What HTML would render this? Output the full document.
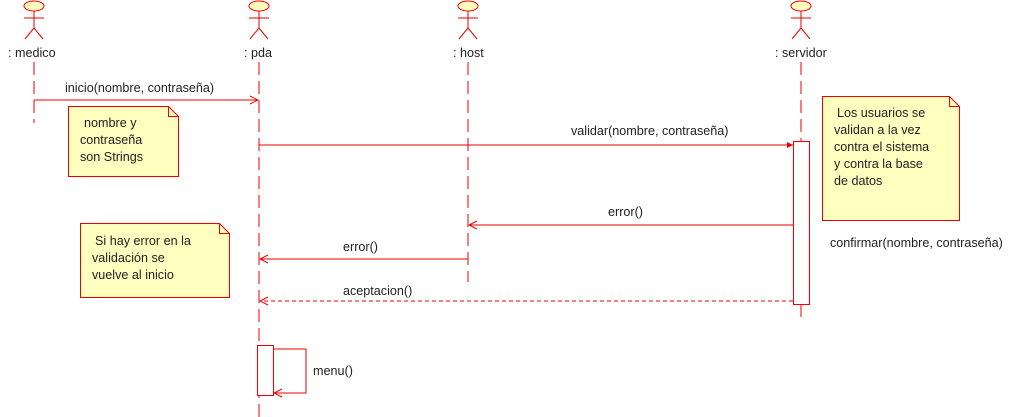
<!DOCTYPE html><html><head><style>body{margin:0;background:#fff}svg{display:block}text{font-family:"Liberation Sans",sans-serif;font-size:12.6px;fill:#222}</style></head><body>
<svg width="1024" height="417" viewBox="0 0 1024 417" xmlns="http://www.w3.org/2000/svg">
<defs><marker id="a" markerWidth="10" markerHeight="10" refX="9" refY="5" orient="auto" markerUnits="userSpaceOnUse"><path d="M1,1 L9,5 L1,9" fill="none" stroke="#e00" stroke-width="1"/></marker>
<marker id="f" markerWidth="10" markerHeight="10" refX="9" refY="5" orient="auto" markerUnits="userSpaceOnUse"><path d="M3,2 L9,5 L3,8Z" fill="#e00"/></marker>
<g id="act" stroke="#e00" fill="none" stroke-width="1"><ellipse cx="0" cy="6" rx="10" ry="5" fill="#ffffc0"/><path d="M0,11V28M-10,18H10M0,28L-9,39M0,28L9,39"/></g></defs>
<use href="#act" x="34"/><use href="#act" x="259"/><use href="#act" x="468"/><use href="#act" x="801"/>
<text x="8" y="57">: medico</text><text x="244" y="57">: pda</text><text x="453" y="57">: host</text><text x="775" y="57">: servidor</text>
<g stroke="#e00" stroke-dasharray="13,6" fill="none"><path d="M34,62V123M259,62V417M468,62V282M801,62V141M801,304V322"/></g>
<g stroke="#e00" fill="#fff"><rect x="793.5" y="141.5" width="16" height="163"/><rect x="257.5" y="345.5" width="16" height="50"/></g>
<g stroke="#e00" fill="none">
<path d="M34,100H258" marker-end="url(#a)"/>
<path d="M259,145H793" marker-end="url(#f)"/>
<path d="M793,225H469" marker-end="url(#a)"/>
<path d="M468,259H260" marker-end="url(#a)"/>
<path d="M793,301H260" stroke-dasharray="4,3" marker-end="url(#a)"/>
<path d="M273,349H306V393H274" marker-end="url(#a)"/>
</g>
<text x="65" y="92">inicio(nombre, contraseña)</text>
<text x="571" y="135">validar(nombre, contraseña)</text>
<text x="608" y="216">error()</text>
<text x="343" y="251">error()</text>
<text x="343" y="295">aceptacion()</text>
<text x="313" y="375">menu()</text>
<text x="830" y="247">confirmar(nombre, contraseña)</text>
<g stroke="#e00" fill="#ffffc0"><path d="M68.5,106.5H168.5L178.5,116.5V176.5H68.5Z"/><path d="M822.5,96.5H949.5L959.5,106.5V220.5H822.5Z"/><path d="M80.5,223.5H219.5L229.5,233.5V297.5H80.5Z"/><path d="M168.5,106.5V116.5H178.5M949.5,96.5V106.5H959.5M219.5,223.5V233.5H229.5" fill="none"/></g>
<g style="font-size:13px"><text x="84" y="127">nombre y</text><text x="80" y="144">contraseña</text><text x="80" y="161">son Strings</text>
<text x="837" y="117">Los usuarios se</text><text x="834" y="134">validan a la vez</text><text x="834" y="151">contra el sistema</text><text x="834" y="168">y contra la base</text><text x="834" y="185">de datos</text>
<text x="95" y="245">Si hay error en la</text><text x="92" y="262">validación se</text><text x="92" y="279">vuelve al inicio</text></g>
</svg></body></html>
